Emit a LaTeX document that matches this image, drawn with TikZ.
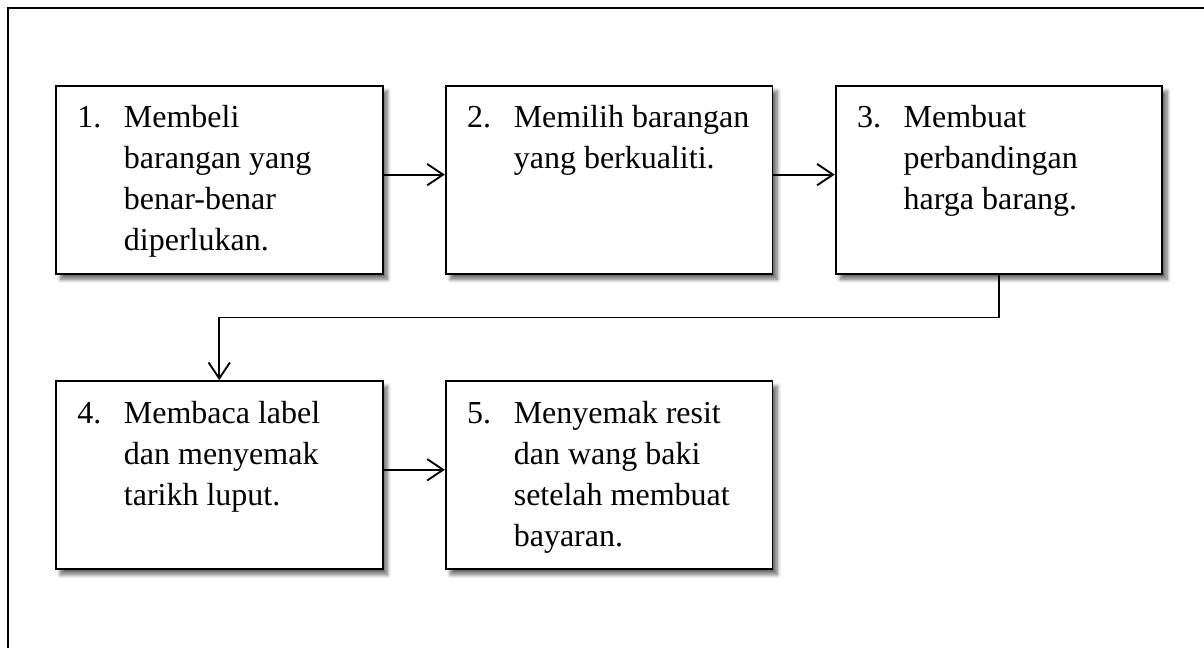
\documentclass[tikz,border=0pt]{standalone}
\usepackage{fontspec}
\setmainfont{Liberation Serif}
\usetikzlibrary{
  positioning,
  arrows.meta,
  shadows.blur
}

\tikzset{
  stepbox/.style={draw, line width=1.4pt, fill=white, anchor=north west,
    inner xsep=16pt, inner ysep=0pt, text height=31.5pt, text depth=109.5pt,
    blur shadow={shadow xshift=3.5pt, shadow yshift=-4pt,
      shadow blur steps=8, shadow blur radius=3pt, shadow opacity=60}},
  flow/.style={line width=1.4pt,
    -{Straight Barb[length=12pt,width=16pt,line width=1.4pt]}}
}
\newcommand{\steptext}[2]{\makebox[213pt][l]{\fontsize{24}{30.75}\selectfont
  \begin{tabular}[t]{@{}p{35pt}@{}l@{}}#1 &
    \begin{tabular}[t]{@{}l@{}}#2\end{tabular}\end{tabular}}}

\begin{document}
\begin{tikzpicture}[x=0.75pt, y=-0.75pt, node distance = 46pt]
    \useasboundingbox (0,0) rectangle (1204,648);
    \begin{scope}
      \clip (0,0) rectangle (1204,648);
      \draw[line width=1.9pt] (8,8) rectangle (1300,700);
    \end{scope}

    \node[stepbox] (s1) at (55,85) {\steptext{1.}{Membeli\\barangan yang\\benar-benar\\diperlukan.}};
    \node[stepbox, right = of s1] (s2) {\steptext{2.}{Memilih barangan\\yang berkualiti.}};
    \node[stepbox, right = of s2] (s3) {\steptext{3.}{Membuat\\perbandingan\\harga barang.}};
    \node[stepbox, below = 79pt of s1] (s4) {\steptext{4.}{Membaca label\\dan menyemak\\tarikh luput.}};
    \node[stepbox, right = of s4] (s5) {\steptext{5.}{Menyemak resit\\dan wang baki\\setelah membuat\\bayaran.}};

    \draw[flow] ([yshift=4pt]s1.east) -- ([yshift=4pt]s2.west);
    \draw[flow] ([yshift=4pt]s2.east) -- ([yshift=4pt]s3.west);
    \draw[flow] (s3.south) -- ++(0,-32pt) -| (s4.north);
    \draw[flow] ([yshift=4pt]s4.east) -- ([yshift=4pt]s5.west);
\end{tikzpicture}
\end{document}
